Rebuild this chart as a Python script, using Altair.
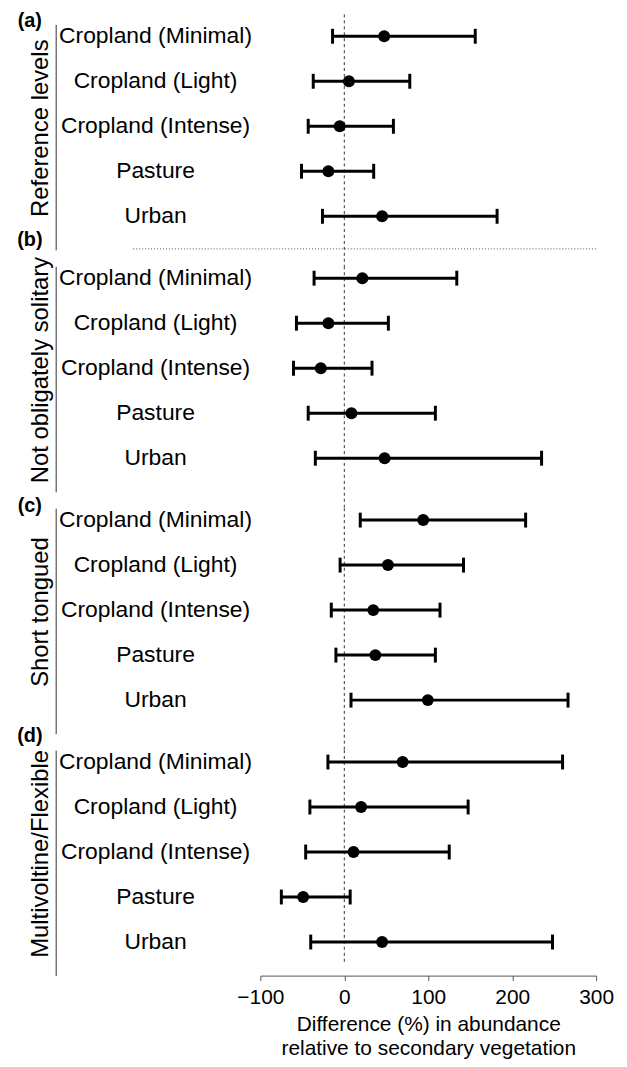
import altair as alt
import pandas as pd

# ---------------- data ----------------
groups = ["Reference levels", "Not obligately solitary", "Short tongued", "Multivoltine/Flexible"]
letters = ["(a)", "(b)", "(c)", "(d)"]
categories = ["Cropland (Minimal)", "Cropland (Light)", "Cropland (Intense)", "Pasture", "Urban"]

estimate_a = [47.5, 5.5, -5.5, -19, 45]
lower_a = [-14, -37, -43, -51, -26]
upper_a = [156, 78, 58.5, 35, 182]

estimate_b = [21.5, -19, -28, 8.5, 48]
lower_b = [-36, -57, -60.5, -43, -34.5]
upper_b = [134, 52.5, 33, 108.5, 235]

estimate_c = [94, 52, 34.5, 37, 99.5]
lower_c = [19, -5, -15.5, -10, 8]
upper_c = [216, 142, 114, 108.5, 266.5]

estimate_d = [69.5, 20, 11, -49, 45]
lower_d = [-19.5, -41, -46, -75, -40]
upper_d = [260, 147.5, 125, 7, 248]

x_ticks = [-100, 0, 100, 200, 300]
x_title = ["Difference (%) in abundance", "relative to secondary vegetation"]
reference_line = [0]

# ---------------- layout / style ----------------
FONT = "Liberation Sans"
PLOT_W = 338
PANEL_H = 227
LABEL_W = 206
GAP = 16.5

letter_y = [-3, -26.5, -2.5, -14.5]
zero_span = [(-10, PANEL_H + GAP), (0, PANEL_H + GAP), (0, PANEL_H + GAP), (0, 213)]

estimates = [estimate_a, estimate_b, estimate_c, estimate_d]
lowers = [lower_a, lower_b, lower_c, lower_d]
uppers = [upper_a, upper_b, upper_c, upper_d]

yscale = alt.Scale(type="point", domain=categories, padding=0.5055, align=0.262)
xscale = alt.Scale(domain=[-100, 300], nice=False, zero=False)

zero_df = pd.DataFrame({"x": reference_line})

panels = []
for i, g in enumerate(groups):
    df = pd.DataFrame({
        "category": categories,
        "est": estimates[i],
        "lo": lowers[i],
        "hi": uppers[i],
    })
    last = i == len(groups) - 1

    yaxis = alt.Axis(title=g, orient="left", offset=LABEL_W, labels=False, ticks=False,
                     domain=True, domainColor="#333333", domainWidth=1, grid=False,
                     titleFont=FONT, titleFontSize=24, titleFontWeight="normal",
                     titleColor="black", titleAngle=270, titleBaseline="bottom",
                     titleAlign="center", titleX=-3, titleY=104)
    if last:
        xaxis = alt.Axis(values=x_ticks, title=x_title, grid=False, domainColor="#555555",
                         tickColor="#555555", tickSize=5, labelFont=FONT, labelFontSize=21,
                         labelColor="black", labelPadding=6, labelFlush=False,
                         titleFont=FONT, titleFontSize=21, titleFontWeight="normal",
                         titleColor="black", titlePadding=6, titleLineHeight=24)
    else:
        xaxis = None

    Y = alt.Y("category:N", scale=yscale, sort=categories, axis=yaxis)

    y0, y1 = zero_span[i]
    zero_rule = alt.Chart(zero_df).mark_rule(
        strokeDash=[3, 3], strokeWidth=1, color="#333333"
    ).encode(x=alt.X("x:Q", scale=xscale, axis=xaxis), y=alt.value(y0), y2=alt.value(y1))

    bars = alt.Chart(df).mark_rule(strokeWidth=3, color="black").encode(
        x=alt.X("lo:Q", scale=xscale, axis=xaxis), x2="hi:Q", y=Y,
    )
    cap_lo = alt.Chart(df).mark_tick(thickness=3, size=15, color="black", opacity=1).encode(
        x=alt.X("lo:Q", scale=xscale, axis=xaxis), y=Y,
    )
    cap_hi = alt.Chart(df).mark_tick(thickness=3, size=15, color="black", opacity=1).encode(
        x=alt.X("hi:Q", scale=xscale, axis=xaxis), y=Y,
    )
    points = alt.Chart(df).mark_circle(size=145, color="black", opacity=1).encode(
        x=alt.X("est:Q", scale=xscale, axis=xaxis), y=Y,
    )
    labels = alt.Chart(df).mark_text(
        align="center", baseline="middle", font=FONT, fontSize=23, color="black"
    ).encode(x=alt.value(-(LABEL_W - 100.5)), y=Y, text="category:N")
    letter = alt.Chart(pd.DataFrame({"letter": [letters[i]]})).mark_text(
        align="center", baseline="middle", font=FONT, fontSize=20,
        fontWeight="bold", color="black"
    ).encode(x=alt.value(-(LABEL_W + 26)), y=alt.value(letter_y[i]), text="letter:N")

    layers = [zero_rule, bars, cap_lo, cap_hi, points, labels, letter]
    if i == 0:
        sep = alt.Chart(zero_df).mark_rule(
            strokeDash=[1, 2], strokeWidth=1, color="#555555"
        ).encode(x=alt.value(-128), x2=alt.value(PLOT_W), y=alt.value(226))
        layers.insert(0, sep)
    panels.append(alt.layer(*layers).properties(width=PLOT_W, height=PANEL_H))

chart = alt.vconcat(*panels, spacing=GAP, bounds="flush").properties(
    padding={"left": 9, "top": 0, "right": 5, "bottom": 0},
    background="white",
).configure_view(stroke=None)

chart.save("out.html", embed_options={"renderer": "svg", "actions": False})
